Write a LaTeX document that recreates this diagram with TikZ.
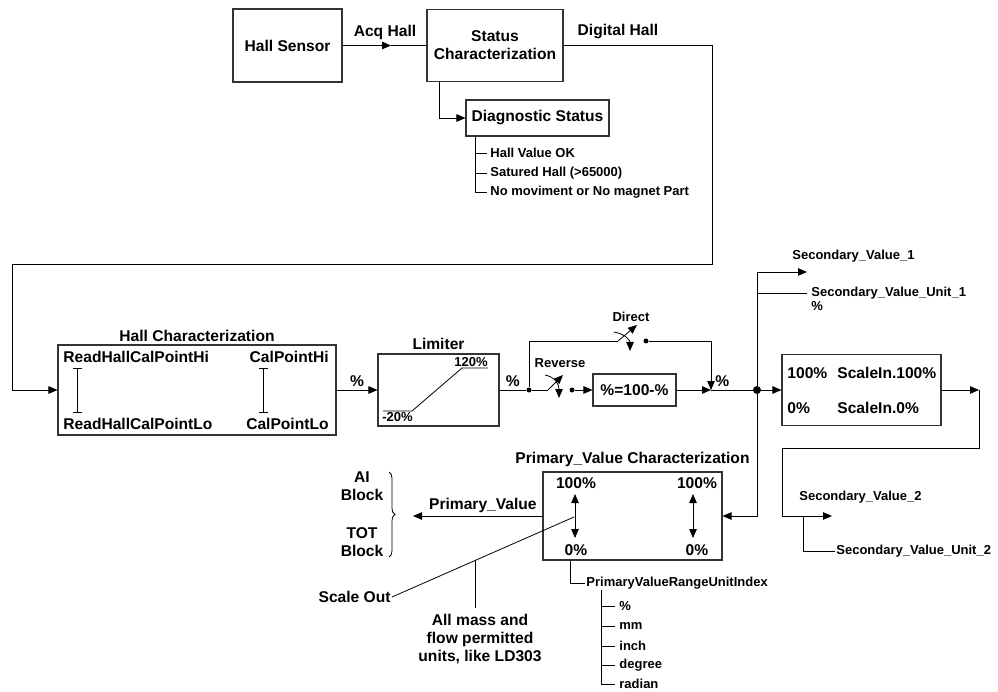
\documentclass[tikz,border=0pt]{standalone}
\usepackage{fontspec}
\setmainfont{Liberation Sans}
\usetikzlibrary{positioning,arrows.meta,calc,decorations.pathreplacing}
\newcommand{\lgfont}{\fontsize{15.6}{18}\selectfont\bfseries}
\newcommand{\smfont}{\fontsize{13}{15}\selectfont\bfseries}
\tikzset{
	blk/.style={draw=black!80, line width=1.1pt, inner sep=0pt, font=\lgfont, align=center},
	lbl/.style={font=\lgfont, inner sep=1pt, align=center},
	sml/.style={font=\smfont, inner sep=1pt},
	sdot/.style={circle, fill, inner sep=0pt, minimum size=5pt},
	jdot/.style={circle, fill, inner sep=0pt, minimum size=8pt},
}
\begin{document}
\begin{tikzpicture}[x=1pt, y=1pt, line width=0.8pt, >={Triangle[length=9pt,width=7.5pt]}]
	\useasboundingbox (0,0) rectangle (998,-692);
	% top chain
	\node[blk, minimum width=109pt, minimum height=73pt] (sensor) at (287.5,-45.5) {Hall Sensor};
	\node[blk, minimum width=136pt, minimum height=72pt] (status) at (495,-45.5) {Status\\Characterization};
	\node[blk, minimum width=143pt, minimum height=36pt] (diag) at (537.5,-118) {Diagnostic Status};
	\coordinate (acqtip) at (391,-45.5);
	\draw[->] (sensor.east) -- (acqtip);
	\draw (acqtip) -- (status.west);
	\node[lbl] (acq) at (385,-32) {Acq Hall};
	\node[lbl] (dighall) at (618,-32) {Digital Hall};
	\draw[->] ([xshift=-56pt]status.south) |- (diag.west);
	\foreach \y/\txt [count=\i] in {153/Hall Value OK, 173/Satured Hall (>65000), 192/No moviment or No magnet Part}
		\draw (475,-\y) -- (487,-\y) node[sml, right=2pt] (st\i) {\txt};
	\draw ([xshift=-62.5pt]diag.south) -- (475,-192);
	% digital hall feedback
	\coordinate (dh1) at (712,-264);
	\coordinate (dh2) at (12,-264);
	\node[blk, minimum width=278pt, minimum height=90pt] (hallchar) at (197,-390) {};
	\draw[->] (status.east) -| (dh1) -- (dh2) |- (hallchar.west);
	\node[lbl, above=1pt of hallchar] (hctitle) {Hall Characterization};
	\node[lbl, anchor=west] (rhi) at (62,-357) {ReadHallCalPointHi};
	\node[lbl, anchor=west] (rlo) at (62,-424) {ReadHallCalPointLo};
	\node[lbl, anchor=east] (chi) at (330,-357) {CalPointHi};
	\node[lbl, anchor=east] (clo) at (330,-424) {CalPointLo};
	\draw[{Bar[width=9pt]}-{Bar[width=9pt]}] (77,-368) -- (77,-413);
	\draw[{Bar[width=9pt]}-{Bar[width=9pt]}] (263,-368) -- (263,-413);
	% limiter
	\node[blk, minimum width=121pt, minimum height=72pt] (limiter) at (438.5,-390) {};
	\node[lbl, above=2pt of limiter] (limtitle) {Limiter};
	\draw (383,-411) -- (412,-411) -- (462,-368) -- (488,-368);
	\node[sml, anchor=north west] (lo20) at (381,-411) {-20\%};
	\node[sml, anchor=south east] (hi120) at (489,-368) {120\%};
	\draw[->] (hallchar.east) -- node[lbl, above=2pt] (pc1) {\%} (limiter.west);
	% direct / reverse
	\node[sdot] (split) at (529,-390) {};
	\draw (limiter.east) -- node[lbl, above=2pt, pos=0.5] (pc2) {\%} (split);
	\coordinate (dsw) at (618,-341);
	\draw (split) |- (dsw);
	\draw[->] (dsw) -- ++(19,16);
	\draw[->] (614,-332) .. controls (625,-334) and (630,-340) .. (630,-351);
	\node[sml] (direct) at (631,-317) {Direct};
	\node[sdot] (dcon) at (646,-341) {};
	\coordinate (merge) at (711,-390);
	\draw[->] (dcon) -| (merge);
	\coordinate (rsw) at (548,-390);
	\draw (split) -- (rsw);
	\draw[->] (rsw) -- ++(15,15);
	\draw[->] (545,-375) .. controls (555,-377) and (559,-384) .. (559,-398);
	\node[sml] (reverse) at (560,-363) {Reverse};
	\node[sdot] (rcon) at (572,-390) {};
	\node[blk, minimum width=83pt, minimum height=32pt] (revbox) at (634.5,-390) {\%=100-\%};
	\draw[->] (rcon) -- (revbox.west);
	\draw[->] (revbox.east) -- (merge);
	\node[lbl, anchor=west] (pc3) at (714,-381) {\%};
	% scale in
	\node[jdot] (jn) at (757,-390) {};
	\node[blk, minimum width=159pt, minimum height=71pt] (scalein) at (861.5,-390) {};
	\draw (merge) -- (jn);
	\draw[->] (jn) -- (scalein.west);
	\node[lbl, anchor=west] (si100) at (786,-373) {100\%};
	\node[lbl, anchor=west] (sin100) at (836,-373) {ScaleIn.100\%};
	\node[lbl, anchor=west] (si0) at (786,-408) {0\%};
	\node[lbl, anchor=west] (sin0) at (836,-408) {ScaleIn.0\%};
	% secondary value 1
	\coordinate (s1a) at (807,-272);
	\coordinate (s1b) at (757,-293);
	\draw[->] (jn) |- (s1a);
	\node[sml, anchor=west] (sv1) at (791,-256) {Secondary\_Value\_1};
	\node[sml, anchor=west] (su1) at (810,-293) {Secondary\_Value\_Unit\_1};
	\node[sml, anchor=north west] (su1p) at (su1.south west) {\%};
	\draw (s1b) -- (807,-293);
	% secondary value 2
	\coordinate (s2a) at (979,-390);
	\coordinate (s2b) at (782,-448);
	\coordinate (s2c) at (832,-516);
	\coordinate (s2d) at (803,-516);
	\draw[->] (scalein.east) -- (s2a);
	\draw (s2a) |- (s2b);
	\draw[->] (s2b) |- (s2c);
	\node[sml, anchor=west] (sv2) at (798,-497) {Secondary\_Value\_2};
	\node[sml, anchor=west] (su2) at (835,-551) {Secondary\_Value\_Unit\_2};
	\draw (s2d) |- (su2.west);
	% primary value
	\node[blk, minimum width=179pt, minimum height=88pt] (pvchar) at (632.5,-516) {};
	\node[lbl, above=3pt of pvchar] (pvtitle) {Primary\_Value Characterization};
	\draw[->] (jn) |- (pvchar.east);
	\node[lbl] (pva100) at (576,-483) {100\%};
	\node[lbl] (pva0) at (576,-550) {0\%};
	\node[lbl] (pvb100) at (697,-483) {100\%};
	\node[lbl] (pvb0) at (697,-550) {0\%};
	\draw[<->] (575,-494) -- (575,-538);
	\draw[<->] (693,-494) -- (693,-538);
	\coordinate (pvout) at (413,-516);
	\draw[->] (pvchar.west) -- node[lbl, above=2pt, pos=0.46] (pvlbl) {Primary\_Value} (pvout);
	\draw[decorate, decoration={brace, amplitude=6pt}] (389,-472) -- (389,-557);
	\node[lbl] (aiblk) at (362,-486) {AI\\Block};
	\node[lbl] (totblk) at (362,-542) {TOT\\Block};
	% scale out
	\coordinate (sopt) at (574,-517);
	\node[lbl, anchor=east] (scaleout) at (392,-597) {Scale Out};
	\draw (sopt) -- (scaleout.east);
	\coordinate (sohit) at ($(sopt)!0.542!(scaleout.east)$);
	\node[lbl, anchor=north] (units) at (480,-613) {All mass and\\flow permitted\\units, like LD303};
	\draw (sohit) -- (sohit |- 0,-608);
	% unit index
	\node[sml, anchor=west] (pvru) at (585,-583) {PrimaryValueRangeUnitIndex};
	\draw ([xshift=-62.5pt]pvchar.south) |- (pvru.west);
	\foreach \y/\txt [count=\i] in {606/\%, 626/mm, 646/inch, 665/degree, 684/radian}
		\draw (601,-\y) -- (615,-\y) node[sml, right=3pt] (un\i) {\txt};
	\draw (601,-590) -- (601,-684);
\end{tikzpicture}
\end{document}
